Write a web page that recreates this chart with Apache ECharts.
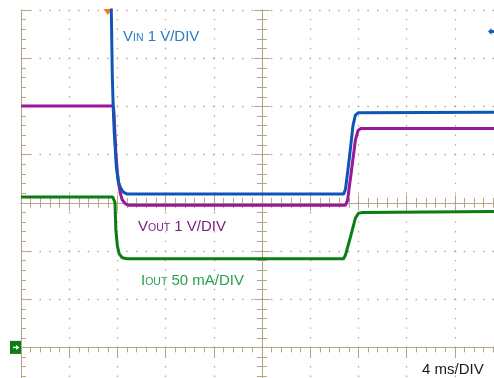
<!DOCTYPE html>
<html>
<head>
<meta charset="utf-8">
<script src="https://cdn.jsdelivr.net/npm/echarts@6/dist/echarts.min.js"></script>
<style>
  html, body { margin: 0; padding: 0; background: #ffffff; }
  #chart { width: 494px; height: 378px; }
</style>
</head>
<body>
<div id="chart"></div>
<script>
// Scope capture: 4 ms/DIV time base, VIN and VOUT at 1 V/DIV, IOUT at 50 mA/DIV.
const triggerTimeMs = 7.2;

// VIN (V) — starts above the screen, drops, then recovers
const vinTimeMs = [0, 7.44, 7.50, 7.58, 7.66, 7.74, 7.83, 7.91, 8.07, 8.24, 8.49, 8.82,
                   26.77, 26.93, 27.26, 27.55, 27.75, 28.00, 40];
const vinVolts  = [8.6, 8.6, 6.9, 5.6, 4.93, 4.45, 4.10, 3.75, 3.45, 3.32, 3.22, 3.18,
                   3.18, 3.28, 3.95, 4.60, 4.82, 4.87, 4.88];

// VOUT (V)
const voutTimeMs = [0, 7.66, 7.72, 7.87, 7.99, 8.10, 8.24, 8.40, 8.66, 8.90,
                    26.93, 27.10, 27.43, 27.75, 27.97, 28.20, 40];
const voutVolts  = [5.01, 5.01, 4.85, 4.03, 3.65, 3.41, 3.20, 3.06, 2.98, 2.95,
                    2.95, 3.05, 3.68, 4.30, 4.50, 4.54, 4.54];

// IOUT (mA)
const ioutTimeMs = [0, 7.62, 7.80, 7.87, 8.00, 8.15, 8.40, 8.82,
                    26.77, 26.93, 27.35, 27.75, 28.00, 28.32, 40];
const ioutMilliamps = [156, 156, 150, 122, 105, 97, 93, 92,
                       92, 96, 115, 134, 139, 140, 141];

// Vertical ranges (8 divisions, channel ground 3 divisions below centre)
const voltRange = [-1, 7];
const currentRange = [-50, 350];

const GRID_COLOR = '#b3a788';
const FONT = "'Liberation Sans', Arial, sans-serif";

const pairs = (xs, ys) => xs.map((x, i) => [x, ys[i]]);

const chart = echarts.init(document.getElementById('chart'), null, { renderer: 'canvas' });

// Ten by eight divisions; the right and bottom edges run past the view.
const gridLeft = 21, gridTop = 10, gridWidth = 482, gridHeight = 385.6;

// Pixel row of the IOUT zero level, from the current axis range
const ioutZeroY = gridTop + gridHeight * (currentRange[1] - 0) / (currentRange[1] - currentRange[0]);

function centreAxisX(inside) {
  return {
    type: 'value', position: 'bottom', offset: -gridHeight / 2,
    min: 0, max: 40, interval: 4,
    axisLine: { show: true, lineStyle: { color: GRID_COLOR, width: 1 } },
    axisTick: { show: true, inside: inside, length: 8, lineStyle: { color: GRID_COLOR } },
    minorTick: { show: true, splitNumber: 5, length: 5, lineStyle: { color: GRID_COLOR } },
    axisLabel: { show: false }, splitLine: { show: false }
  };
}
function centreAxisY(inside) {
  return {
    type: 'value', position: 'left', offset: -gridWidth / 2,
    min: voltRange[0], max: voltRange[1], interval: 1,
    axisLine: { show: true, lineStyle: { color: GRID_COLOR, width: 1 } },
    axisTick: { show: true, inside: inside, length: 8, lineStyle: { color: GRID_COLOR } },
    minorTick: { show: true, splitNumber: 5, length: 5, lineStyle: { color: GRID_COLOR } },
    axisLabel: { show: false }, splitLine: { show: false }
  };
}

const dotted = { color: GRID_COLOR, width: 1.3, type: [1.4, 8.24], dashOffset: 0.7 };

function channelLabel(id, x, y, main, sub, rest, color) {
  const tok = (size) => ({ fontSize: size, fontFamily: FONT, fill: color, verticalAlign: 'bottom', lineHeight: 16 });
  return {
    type: 'text', id: id, x: x, y: y, z: 10,
    style: {
      text: '{m|' + main + '}{s|' + sub + '}{m|' + rest + '}', font: '15px ' + FONT,
      rich: { m: tok(15), s: tok(10.5) }
    }
  };
}

const option = {
  animation: false,
  backgroundColor: '#ffffff',
  grid: {
    left: gridLeft, top: gridTop, width: gridWidth, height: gridHeight,
    containLabel: false, outerBoundsMode: 'none'
  },
  xAxis: [
    {
      type: 'value', position: 'top', min: 0, max: 40, interval: 4,
      axisLine: { show: true, lineStyle: { color: GRID_COLOR, width: 1 } },
      axisTick: { show: true, inside: true, length: 10, lineStyle: { color: GRID_COLOR } },
      minorTick: { show: true, splitNumber: 5, length: 5, lineStyle: { color: GRID_COLOR } },
      axisLabel: { show: false },
      splitLine: { show: true, lineStyle: dotted }
    },
    centreAxisX(true),
    centreAxisX(false)
  ],
  yAxis: [
    {
      type: 'value', position: 'left', min: voltRange[0], max: voltRange[1], interval: 1,
      axisLine: { show: true, lineStyle: { color: GRID_COLOR, width: 1 } },
      axisTick: { show: true, inside: true, length: 10, lineStyle: { color: GRID_COLOR } },
      minorTick: { show: true, splitNumber: 5, length: 5, lineStyle: { color: GRID_COLOR } },
      axisLabel: { show: false },
      splitLine: { show: true, lineStyle: dotted }
    },
    { type: 'value', show: false, min: currentRange[0], max: currentRange[1], interval: 50 },
    centreAxisY(true),
    centreAxisY(false)
  ],
  series: [
    {
      name: 'IOUT', type: 'line', xAxisIndex: 0, yAxisIndex: 1,
      data: pairs(ioutTimeMs, ioutMilliamps),
      showSymbol: false, clip: true, z: 3,
      lineStyle: { color: '#0c7d12', width: 3 }
    },
    {
      name: 'VOUT', type: 'line', xAxisIndex: 0, yAxisIndex: 0,
      data: pairs(voutTimeMs, voutVolts),
      showSymbol: false, clip: true, z: 4,
      lineStyle: { color: '#9a169a', width: 3 }
    },
    {
      name: 'VIN', type: 'line', xAxisIndex: 0, yAxisIndex: 0,
      data: pairs(vinTimeMs, vinVolts),
      showSymbol: false, clip: true, z: 5,
      lineStyle: { color: '#0f55b8', width: 3 },
      markPoint: {
        silent: true,
        label: { show: false },
        data: [{
          coord: [triggerTimeMs, voltRange[1]],
          symbol: 'triangle', symbolRotate: 180, symbolSize: [9, 6], symbolOffset: [0, 2],
          itemStyle: { color: '#f47b22' }
        }]
      }
    }
  ],
  graphic: [
    channelLabel('vinLabel', 123, 28, 'V', 'IN', ' 1 V/DIV', '#2a7cc6'),
    channelLabel('voutLabel', 138, 218, 'V', 'OUT', ' 1 V/DIV', '#7c2180'),
    channelLabel('ioutLabel', 141, 272, 'I', 'OUT', ' 50 mA/DIV', '#2a9e52'),
    {
      type: 'text', id: 'timebase', x: 422, y: 362, z: 10,
      style: { text: '4 ms/DIV', font: '15px ' + FONT, fill: '#1a1a1a' }
    },
    {
      // VIN channel reference indicator at the right edge
      type: 'polygon', id: 'vinRef', z: 10,
      shape: { points: [[488, 31.5], [491.5, 28], [491.5, 30], [494, 30], [494, 33], [491.5, 33], [491.5, 35]] },
      style: { fill: '#1560c0' }
    },
    {
      // IOUT ground marker
      type: 'rect', id: 'ioutGroundBox', z: 10,
      shape: { x: 10, y: ioutZeroY - 6.5, width: 11, height: 13 },
      style: { fill: '#0c7d12' }
    },
    {
      type: 'line', id: 'ioutGroundStem', z: 11,
      shape: { x1: 13, y1: ioutZeroY, x2: 17, y2: ioutZeroY },
      style: { stroke: '#ffffff', lineWidth: 1.5 }
    },
    {
      type: 'polygon', id: 'ioutGroundHead', z: 11,
      shape: { points: [[16, ioutZeroY - 2.5], [19.5, ioutZeroY], [16, ioutZeroY + 2.5]] },
      style: { fill: '#ffffff' }
    }
  ]
};

chart.setOption(option);
</script>
</body>
</html>
